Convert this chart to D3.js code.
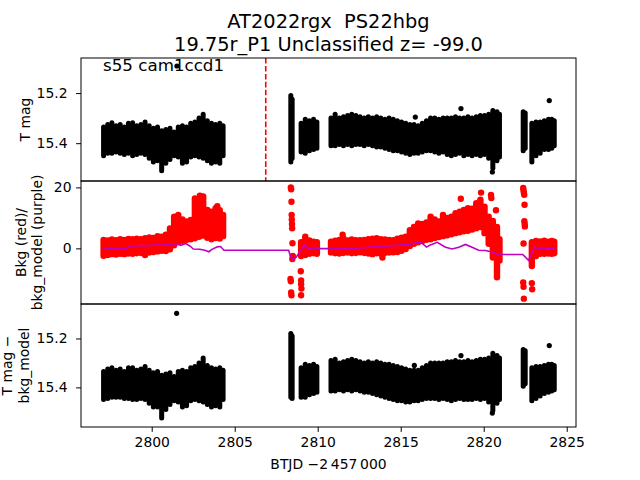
<!DOCTYPE html>
<html><head><meta charset="utf-8">
<script src="https://cdn.jsdelivr.net/npm/d3@7"></script>
<style>body{margin:0;background:#fff} svg{display:block;font-family:"DejaVu Sans",sans-serif} text{white-space:pre}</style>
</head><body><svg id="c" width="640" height="480"></svg>
<script>
// ---------------- DATA ----------------
const titleLines = ["AT2022rgx  PS22hbg", "19.75r_P1 Unclassified z= -99.0"];
const annotation = "s55 cam1ccd1";
const xLabel = "BTJD \u22122\u2009457\u2009000";
const xTicks = [2800, 2805, 2810, 2815, 2820, 2825];
const magTicks = [15.2, 15.4];
const bkgTicks = [-20, 0, 20];
const eventTimes = [2806.87];

// T mag: [time, brightest, faintest] envelope of the dense light curve
const tmagBand = [
[2797.1,15.335,15.45],[2797.35,15.325,15.44],[2797.6,15.318,15.44],[2797.85,15.33,15.435],
[2798.1,15.325,15.44],[2798.35,15.335,15.445],[2798.6,15.32,15.44],[2798.85,15.318,15.45],
[2799.1,15.33,15.445],[2799.35,15.325,15.44],[2799.6,15.315,15.445],[2799.85,15.33,15.46],
[2800.1,15.34,15.475],[2800.35,15.335,15.47],[2800.6,15.35,15.51],[2800.85,15.345,15.48],
[2801.1,15.34,15.465],[2801.35,15.355,15.45],[2801.6,15.335,15.455],[2801.85,15.33,15.48],
[2802.1,15.335,15.475],[2802.35,15.32,15.455],[2802.6,15.315,15.45],[2802.85,15.30,15.455],
[2803.1,15.285,15.46],[2803.35,15.31,15.47],[2803.6,15.32,15.48],[2803.85,15.325,15.475],
[2804.1,15.32,15.48],[2804.3,15.33,15.45],
[2808.38,15.21,15.475],[2808.46,15.225,15.46],
[2809.0,15.32,15.435],[2809.25,15.305,15.44],[2809.5,15.31,15.43],[2809.75,15.305,15.425],[2809.95,15.315,15.42],
[2810.8,15.30,15.41],[2811.05,15.285,15.41],[2811.3,15.30,15.405],[2811.55,15.295,15.41],
[2811.8,15.29,15.405],[2812.05,15.285,15.41],[2812.3,15.29,15.405],[2812.55,15.295,15.405],
[2812.8,15.30,15.41],[2813.05,15.295,15.405],[2813.3,15.30,15.41],[2813.55,15.295,15.415],
[2813.8,15.30,15.415],[2814.05,15.305,15.42],[2814.3,15.30,15.425],[2814.55,15.305,15.43],
[2814.8,15.31,15.43],[2815.05,15.315,15.435],[2815.3,15.32,15.44],[2815.55,15.325,15.445],
[2815.8,15.325,15.44],[2816.05,15.33,15.44],[2816.3,15.32,15.435],[2816.55,15.31,15.43],
[2816.8,15.30,15.43],[2817.05,15.30,15.435],[2817.3,15.305,15.44],[2817.55,15.30,15.435],
[2817.8,15.30,15.445],[2818.05,15.30,15.45],[2818.3,15.295,15.445],[2818.55,15.30,15.44],
[2818.8,15.30,15.45],[2819.05,15.295,15.445],[2819.3,15.30,15.45],[2819.55,15.295,15.445],
[2819.8,15.29,15.45],[2820.05,15.29,15.445],[2820.3,15.285,15.46],[2820.55,15.27,15.50],
[2820.8,15.275,15.47],[2820.95,15.285,15.455],
[2822.38,15.275,15.43],[2822.5,15.28,15.42],
[2822.9,15.32,15.475],[2823.15,15.315,15.45],[2823.4,15.315,15.44],[2823.65,15.31,15.425],
[2823.9,15.305,15.425],[2824.1,15.305,15.42],[2824.25,15.31,15.41]
];
const tmagPoints = [[2801.52,15.092],[2815.88,15.296],[2818.63,15.262],[2823.95,15.23],[2820.52,15.515]];

// Background flux: [time, min, max] envelope
const bkgBand = [
[2797.1,-2.4,2.8],[2797.35,-2.2,2.6],[2797.6,-1.9,2.9],[2797.85,-2.0,2.7],
[2798.1,-1.8,3.0],[2798.35,-1.9,2.8],[2798.6,-1.7,3.1],[2798.85,-1.8,3.0],
[2799.1,-1.6,3.2],[2799.35,-1.5,3.0],[2799.6,-2.2,3.3],[2799.85,-1.4,3.6],
[2800.1,-1.2,3.4],[2800.35,-1.0,4.0],[2800.6,-0.8,3.8],[2800.85,-0.9,4.5],
[2801.1,-0.3,6.5],[2801.35,1.0,10.4],[2801.6,2.0,11.0],[2801.85,2.5,9.5],
[2802.1,2.8,8.8],[2802.35,3.0,9.3],[2802.6,3.3,16.4],[2802.85,3.8,15.5],
[2803.1,4.2,17.0],[2803.35,3.5,12.6],[2803.6,3.0,12.0],[2803.85,3.4,13.2],
[2804.1,3.2,12.5],[2804.3,4.0,11.0],
[2809.0,-2.5,2.0],[2809.25,-2.2,3.8],[2809.5,-1.8,2.6],[2809.75,-1.6,2.2],[2809.95,-1.8,2.0],
[2810.8,-1.4,2.2],[2811.05,-1.6,2.5],[2811.3,-1.7,2.8],[2811.55,-1.5,3.3],
[2811.8,-1.4,2.6],[2812.05,-1.6,2.9],[2812.3,-1.5,2.7],[2812.55,-1.3,2.7],
[2812.8,-1.5,2.8],[2813.05,-1.7,3.0],[2813.3,-1.9,3.2],[2813.55,-1.6,3.3],
[2813.8,-1.8,3.0],[2814.05,-1.5,2.9],[2814.3,-1.4,2.8],[2814.55,-1.3,2.7],
[2814.8,-1.2,3.2],[2815.05,-0.8,3.5],[2815.3,-0.2,3.8],[2815.55,0.8,6.0],
[2815.8,1.5,7.0],[2816.05,2.0,8.2],[2816.3,2.4,8.0],[2816.55,2.8,8.5],
[2816.8,3.0,10.4],[2817.05,3.4,9.5],[2817.3,3.7,8.8],[2817.55,4.0,11.0],
[2817.8,4.3,10.0],[2818.05,4.6,10.4],[2818.3,5.0,11.5],[2818.55,5.3,12.0],
[2818.8,5.6,12.6],[2819.05,5.8,13.2],[2819.3,6.2,13.0],[2819.55,6.6,14.8],
[2819.8,7.0,16.0],[2820.05,5.0,13.7],[2820.3,1.5,10.4],[2820.55,-3.0,9.0],
[2820.8,-9.5,7.0],[2820.95,-4.0,3.0],
[2822.9,-5.8,2.0],[2823.15,-2.5,2.4],[2823.4,-1.8,2.3],[2823.65,-1.8,2.5],
[2823.9,-1.7,2.2],[2824.1,-1.8,2.4],[2824.25,-1.6,2.2]
];
const bkgPoints = [
[2802.9,17.3],[2803.0,16.8],[2803.95,13.8],
[2808.38,20.0],[2808.40,19.4],[2808.42,15.3],[2808.43,11.0],[2808.44,9.5],[2808.45,8.0],
[2808.46,6.6],[2808.48,1.7],[2808.50,-2.5],[2808.47,-3.5],[2808.36,-10.0],[2808.38,-10.8],
[2808.40,-14.5],[2808.42,-15.4],[2808.98,-7.5],[2809.0,-10.5],[2809.0,-11.8],[2809.02,-13.2],[2809.0,-15.4],
[2811.5,4.5],[2813.9,-3.0],[2818.62,16.3],[2819.84,18.3],[2820.44,17.5],[2820.46,16.5],[2820.74,12.5],
[2822.38,19.8],[2822.40,19.0],[2822.42,18.2],[2822.44,17.6],[2822.46,14.3],[2822.45,8.9],
[2822.47,8.0],[2822.48,7.2],[2822.40,1.6],[2822.38,-11.2],[2822.40,-12.6],[2822.42,-16.5],
[2822.9,-11.4],[2822.92,-13.4]
];
const bkgModel = [
[2797.05,-0.2],[2797.5,-0.1],[2798.0,-0.1],[2798.4,0.0],[2798.75,0.8],[2799.2,0.9],[2799.7,0.9],
[2800.3,1.1],[2800.8,1.2],[2801.2,1.4],[2801.5,1.6],[2801.75,1.0],[2802.05,1.6],[2802.35,0.6],
[2802.5,-0.2],[2802.9,-0.3],[2803.2,-0.6],[2803.45,-1.1],[2803.6,-0.4],[2803.95,0.5],[2804.15,0.6],
[2804.35,-0.6],[2808.25,-0.6],[2808.35,-2.5],[2808.5,-3.7],[2808.7,-2.9],[2809.0,-0.5],[2809.2,1.2],
[2809.4,0.0],[2810.0,-0.1],[2811.0,-0.1],[2812.0,-0.1],[2812.7,0.2],[2813.5,0.6],[2814.5,0.9],
[2815.5,1.3],[2816.2,2.1],[2816.55,0.4],[2816.75,1.0],[2817.2,2.0],[2817.7,0.4],[2818.1,-0.2],
[2818.5,0.4],[2818.9,1.3],[2819.3,0.4],[2819.7,-0.6],[2820.1,-0.7],[2820.5,-1.2],[2820.9,-2.0],
[2822.35,-2.0],[2822.7,-3.9],[2823.05,0.4],[2823.3,0.0],[2824.35,0.0]
];

// T mag - bkg_model: [time, brightest, faintest]
const diffBand = [
[2797.1,15.335,15.45],[2797.35,15.325,15.445],[2797.6,15.32,15.44],[2797.85,15.33,15.44],
[2798.1,15.325,15.44],[2798.35,15.335,15.445],[2798.6,15.32,15.445],[2798.85,15.32,15.45],
[2799.1,15.33,15.45],[2799.35,15.325,15.445],[2799.6,15.315,15.45],[2799.85,15.33,15.465],
[2800.1,15.34,15.48],[2800.35,15.335,15.48],[2800.6,15.35,15.525],[2800.85,15.345,15.49],
[2801.1,15.34,15.47],[2801.35,15.355,15.455],[2801.6,15.335,15.46],[2801.85,15.33,15.48],
[2802.1,15.335,15.475],[2802.35,15.32,15.455],[2802.6,15.315,15.45],[2802.85,15.30,15.455],
[2803.1,15.28,15.46],[2803.35,15.31,15.47],[2803.6,15.32,15.48],[2803.85,15.325,15.475],
[2804.1,15.32,15.48],[2804.3,15.33,15.45],
[2808.38,15.18,15.44],[2808.46,15.19,15.445],
[2809.0,15.32,15.44],[2809.25,15.305,15.44],[2809.5,15.31,15.43],[2809.75,15.305,15.425],[2809.95,15.315,15.42],
[2810.8,15.29,15.415],[2811.05,15.285,15.415],[2811.3,15.30,15.41],[2811.55,15.295,15.415],
[2811.8,15.29,15.41],[2812.05,15.285,15.415],[2812.3,15.29,15.41],[2812.55,15.295,15.415],
[2812.8,15.30,15.42],[2813.05,15.295,15.42],[2813.3,15.30,15.425],[2813.55,15.295,15.43],
[2813.8,15.30,15.435],[2814.05,15.305,15.44],[2814.3,15.305,15.445],[2814.55,15.31,15.45],
[2814.8,15.315,15.455],[2815.05,15.32,15.455],[2815.3,15.325,15.46],[2815.55,15.33,15.46],
[2815.8,15.33,15.455],[2816.05,15.33,15.455],[2816.3,15.32,15.45],[2816.55,15.31,15.445],
[2816.8,15.30,15.445],[2817.05,15.30,15.445],[2817.3,15.30,15.45],[2817.55,15.30,15.445],
[2817.8,15.295,15.45],[2818.05,15.295,15.455],[2818.3,15.29,15.45],[2818.55,15.295,15.445],
[2818.8,15.295,15.45],[2819.05,15.29,15.45],[2819.3,15.295,15.45],[2819.55,15.29,15.445],
[2819.8,15.285,15.45],[2820.05,15.285,15.445],[2820.3,15.28,15.46],[2820.55,15.26,15.495],
[2820.8,15.27,15.465],[2820.95,15.28,15.45],
[2822.38,15.245,15.395],[2822.5,15.25,15.385],
[2822.9,15.32,15.455],[2823.15,15.315,15.445],[2823.4,15.315,15.435],[2823.65,15.31,15.425],
[2823.9,15.305,15.42],[2824.1,15.305,15.415],[2824.25,15.31,15.41]
];
const diffPoints = [[2801.5,15.097],[2815.82,15.31],[2818.63,15.27],[2823.95,15.229],[2820.52,15.505]];

// ---------------- DRAW ----------------
const svg = d3.select('#c');
const L = 81, R = 576, T = 58, H = 123;
const x = d3.scaleLinear().domain([2795.74, 2825.56]).range([L, R]);
const panels = [
  {id:'p0', y: d3.scaleLinear().domain([15.06, 15.551]).range([T, T+H]), top:T},
  {id:'p1', y: d3.scaleLinear().domain([-18.25, 22.1]).range([T+2*H, T+H]), top:T+H},
  {id:'p2', y: d3.scaleLinear().domain([15.059, 15.562]).range([T+H*2, T+H*3]), top:T+2*H}
];
const defs = svg.append('defs');
panels.forEach(p => {
  defs.append('clipPath').attr('id', 'clip'+p.id)
    .append('rect').attr('x', L).attr('y', p.top).attr('width', R-L).attr('height', H);
});

function drawBand(g, data, y, color, w) {
  g.selectAll(null).data(data).enter().append('line')
    .attr('x1', d => x(d[0])).attr('x2', d => x(d[0]))
    .attr('y1', d => y(d[1])).attr('y2', d => y(d[2]))
    .attr('stroke', color).attr('stroke-width', w).attr('stroke-linecap', 'round');
}
function drawPts(g, data, y, color, r) {
  g.selectAll(null).data(data).enter().append('circle')
    .attr('cx', d => x(d[0])).attr('cy', d => y(d[1])).attr('r', r).attr('fill', color);
}

// Panel 0: T mag
const g0 = svg.append('g').attr('clip-path', 'url(#clipp0)');
drawBand(g0, tmagBand, panels[0].y, '#000', 5);
drawPts(g0, tmagPoints, panels[0].y, '#000', 2.6);

// Panel 1: background
const g1 = svg.append('g').attr('clip-path', 'url(#clipp1)');
drawBand(g1, bkgBand, panels[1].y, '#ff0000', 6.4);
drawPts(g1, bkgPoints, panels[1].y, '#ff0000', 3.2);
g1.append('path').datum(bkgModel)
  .attr('d', d3.line().x(d => x(d[0])).y(d => panels[1].y(d[1])))
  .attr('fill', 'none').attr('stroke', '#bf00bf').attr('stroke-width', 1.6);

// Panel 2: T mag - bkg_model
const g2 = svg.append('g').attr('clip-path', 'url(#clipp2)');
drawBand(g2, diffBand, panels[2].y, '#000', 5);
drawPts(g2, diffPoints, panels[2].y, '#000', 2.6);

// event line in top panel
svg.append('g').selectAll(null).data(eventTimes).enter().append('line')
  .attr('x1', d => x(d)).attr('x2', d => x(d)).attr('y1', T).attr('y2', T+H)
  .attr('stroke', '#ff0000').attr('stroke-width', 1.6).attr('stroke-dasharray', '5.55,2.4');

// annotation
svg.append('text').attr('x', 103).attr('y', 71).attr('font-size', 16.7).attr('fill', '#000').text(annotation);

// frames
panels.forEach(p => {
  svg.append('rect').attr('x', L).attr('y', p.top).attr('width', R-L).attr('height', H)
    .attr('fill', 'none').attr('stroke', '#000').attr('stroke-width', 1);
});

// y axes
function yAxis(p, ticks, pad) {
  const g = svg.append('g').attr('transform', `translate(${L},0)`)
    .call(d3.axisLeft(p.y).tickValues(ticks.filter(t => {
      const [a,b] = d3.extent(p.y.domain()); return t >= a && t <= b; }))
      .tickFormat(d => d3.format('')(d)).tickSize(4.9).tickPadding(pad));
  g.select('.domain').remove();
  g.attr('font-size', 13.9).attr('font-family', '"DejaVu Sans",sans-serif');
  g.selectAll('line').attr('stroke', '#000').attr('stroke-width', 1);
}
yAxis(panels[0], magTicks, 8.6);
yAxis(panels[1], bkgTicks, 4.6);
yAxis(panels[2], magTicks, 8.6);

// x axis
const gx = svg.append('g').attr('transform', `translate(0,${T+3*H})`)
  .call(d3.axisBottom(x).tickValues(xTicks).tickFormat(d3.format('d')).tickSize(4.9).tickPadding(5.4));
gx.select('.domain').remove();
gx.attr('font-size', 13.9).attr('font-family', '"DejaVu Sans",sans-serif');
gx.selectAll('line').attr('stroke', '#000').attr('stroke-width', 1);

// axis labels
svg.append('text').attr('x', (L+R)/2).attr('y', 469).attr('text-anchor', 'middle')
  .attr('font-size', 13.9).text(xLabel);
const yLabels = [
  {lines:['T mag'], base:[30], cy: T+H/2},
  {lines:['Bkg (red)/', 'bkg_model (purple)'], base:[26, 42], cy: T+1.5*H},
  {lines:['T mag \u2212', 'bkg_model'], base:[11.5, 28.5], cy: T+2.5*H}
];
yLabels.forEach(lb => {
  lb.lines.forEach((s, i) => {
    svg.append('text').attr('transform', `translate(${lb.base[i]},${lb.cy}) rotate(-90)`)
      .attr('text-anchor', 'middle').attr('font-size', 13.9).text(s);
  });
});

// title
titleLines.forEach((s, i) => {
  svg.append('text').attr('x', (L+R)/2).attr('y', 27.5 + i*23).attr('text-anchor', 'middle')
    .attr('font-size', 19.4).attr('xml:space', 'preserve').text(s);
});
</script></body></html>
